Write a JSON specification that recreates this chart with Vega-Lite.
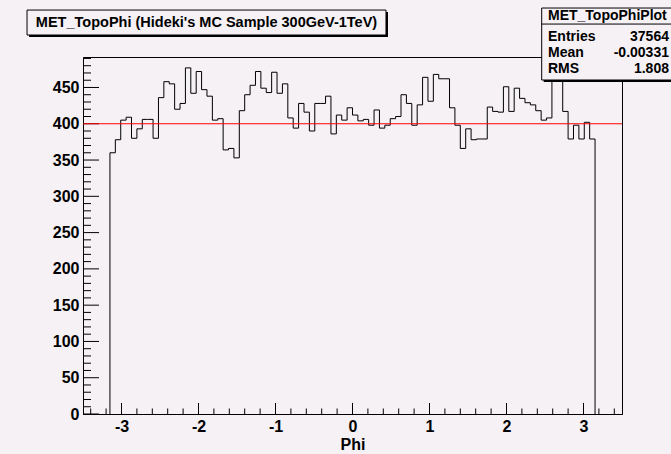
{
  "$schema": "https://vega.github.io/schema/vega-lite/v6.json",
  "width": 539,
  "height": 357,
  "autosize": {"type": "none"},
  "padding": {"left": 83, "top": 57, "right": 49, "bottom": 40},
  "background": "#f5f1f5",
  "config": {
    "view": {"stroke": "black", "strokeWidth": 1},
    "font": "Liberation Sans",
    "axis": {"grid": false, "tickColor": "black", "domainColor": "black", "labelColor": "black", "titleColor": "black", "tickCount": 100, "labelFlush": false, "labelOverlap": false}
  },
  "resolve": {"axis": {"x": "independent", "y": "independent"}},
  "datasets": {
    "hist": [
      {"i": 0, "phi": -3.15, "n": 0},
      {"i": 1, "phi": -3.15, "n": 360},
      {"i": 2, "phi": -3.08, "n": 378},
      {"i": 3, "phi": -3.01, "n": 405},
      {"i": 4, "phi": -2.94, "n": 409},
      {"i": 5, "phi": -2.87, "n": 380},
      {"i": 6, "phi": -2.80, "n": 393},
      {"i": 7, "phi": -2.73, "n": 406},
      {"i": 8, "phi": -2.66, "n": 406},
      {"i": 9, "phi": -2.59, "n": 380},
      {"i": 10, "phi": -2.52, "n": 436},
      {"i": 11, "phi": -2.45, "n": 458},
      {"i": 12, "phi": -2.38, "n": 455},
      {"i": 13, "phi": -2.31, "n": 420},
      {"i": 14, "phi": -2.24, "n": 428},
      {"i": 15, "phi": -2.17, "n": 477},
      {"i": 16, "phi": -2.10, "n": 442},
      {"i": 17, "phi": -2.03, "n": 472},
      {"i": 18, "phi": -1.96, "n": 447},
      {"i": 19, "phi": -1.89, "n": 438},
      {"i": 20, "phi": -1.82, "n": 405},
      {"i": 21, "phi": -1.75, "n": 407},
      {"i": 22, "phi": -1.68, "n": 364},
      {"i": 23, "phi": -1.61, "n": 366},
      {"i": 24, "phi": -1.54, "n": 353},
      {"i": 25, "phi": -1.47, "n": 418},
      {"i": 26, "phi": -1.40, "n": 440},
      {"i": 27, "phi": -1.33, "n": 453},
      {"i": 28, "phi": -1.26, "n": 472},
      {"i": 29, "phi": -1.19, "n": 449},
      {"i": 30, "phi": -1.12, "n": 443},
      {"i": 31, "phi": -1.05, "n": 471},
      {"i": 32, "phi": -0.98, "n": 442},
      {"i": 33, "phi": -0.91, "n": 455},
      {"i": 34, "phi": -0.84, "n": 408},
      {"i": 35, "phi": -0.77, "n": 394},
      {"i": 36, "phi": -0.70, "n": 428},
      {"i": 37, "phi": -0.63, "n": 416},
      {"i": 38, "phi": -0.56, "n": 390},
      {"i": 39, "phi": -0.49, "n": 428},
      {"i": 40, "phi": -0.42, "n": 428},
      {"i": 41, "phi": -0.35, "n": 438},
      {"i": 42, "phi": -0.28, "n": 386},
      {"i": 43, "phi": -0.21, "n": 412},
      {"i": 44, "phi": -0.14, "n": 405},
      {"i": 45, "phi": -0.07, "n": 422},
      {"i": 46, "phi": 0.00, "n": 412},
      {"i": 47, "phi": 0.07, "n": 404},
      {"i": 48, "phi": 0.14, "n": 406},
      {"i": 49, "phi": 0.21, "n": 398},
      {"i": 50, "phi": 0.28, "n": 419},
      {"i": 51, "phi": 0.35, "n": 394},
      {"i": 52, "phi": 0.42, "n": 398},
      {"i": 53, "phi": 0.49, "n": 407},
      {"i": 54, "phi": 0.56, "n": 410},
      {"i": 55, "phi": 0.63, "n": 440},
      {"i": 56, "phi": 0.70, "n": 428},
      {"i": 57, "phi": 0.77, "n": 398},
      {"i": 58, "phi": 0.84, "n": 426},
      {"i": 59, "phi": 0.91, "n": 464},
      {"i": 60, "phi": 0.98, "n": 431},
      {"i": 61, "phi": 1.05, "n": 468},
      {"i": 62, "phi": 1.12, "n": 462},
      {"i": 63, "phi": 1.19, "n": 462},
      {"i": 64, "phi": 1.26, "n": 422},
      {"i": 65, "phi": 1.33, "n": 398},
      {"i": 66, "phi": 1.40, "n": 366},
      {"i": 67, "phi": 1.47, "n": 393},
      {"i": 68, "phi": 1.54, "n": 378},
      {"i": 69, "phi": 1.61, "n": 379},
      {"i": 70, "phi": 1.68, "n": 379},
      {"i": 71, "phi": 1.75, "n": 423},
      {"i": 72, "phi": 1.82, "n": 417},
      {"i": 73, "phi": 1.89, "n": 416},
      {"i": 74, "phi": 1.96, "n": 451},
      {"i": 75, "phi": 2.03, "n": 417},
      {"i": 76, "phi": 2.10, "n": 449},
      {"i": 77, "phi": 2.17, "n": 435},
      {"i": 78, "phi": 2.24, "n": 429},
      {"i": 79, "phi": 2.31, "n": 426},
      {"i": 80, "phi": 2.38, "n": 418},
      {"i": 81, "phi": 2.45, "n": 405},
      {"i": 82, "phi": 2.52, "n": 408},
      {"i": 83, "phi": 2.59, "n": 470},
      {"i": 84, "phi": 2.66, "n": 465},
      {"i": 85, "phi": 2.73, "n": 417},
      {"i": 86, "phi": 2.80, "n": 379},
      {"i": 87, "phi": 2.87, "n": 398},
      {"i": 88, "phi": 2.94, "n": 379},
      {"i": 89, "phi": 3.01, "n": 402},
      {"i": 90, "phi": 3.08, "n": 379},
      {"i": 91, "phi": 3.15, "n": 0}
    ],
    "xmajor": [{"v": -3}, {"v": -2}, {"v": -1}, {"v": 0}, {"v": 1}, {"v": 2}, {"v": 3}],
    "xminor": [{"v": -3.4}, {"v": -3.2}, {"v": -2.8}, {"v": -2.6}, {"v": -2.4}, {"v": -2.2}, {"v": -1.8}, {"v": -1.6}, {"v": -1.4}, {"v": -1.2}, {"v": -0.8}, {"v": -0.6}, {"v": -0.4}, {"v": -0.2}, {"v": 0.2}, {"v": 0.4}, {"v": 0.6}, {"v": 0.8}, {"v": 1.2}, {"v": 1.4}, {"v": 1.6}, {"v": 1.8}, {"v": 2.2}, {"v": 2.4}, {"v": 2.6}, {"v": 2.8}, {"v": 3.2}, {"v": 3.4}],
    "ymajor": [{"v": 0}, {"v": 50}, {"v": 100}, {"v": 150}, {"v": 200}, {"v": 250}, {"v": 300}, {"v": 350}, {"v": 400}, {"v": 450}],
    "yminor": [{"v": 10}, {"v": 20}, {"v": 30}, {"v": 40}, {"v": 60}, {"v": 70}, {"v": 80}, {"v": 90}, {"v": 110}, {"v": 120}, {"v": 130}, {"v": 140}, {"v": 160}, {"v": 170}, {"v": 180}, {"v": 190}, {"v": 210}, {"v": 220}, {"v": 230}, {"v": 240}, {"v": 260}, {"v": 270}, {"v": 280}, {"v": 290}, {"v": 310}, {"v": 320}, {"v": 330}, {"v": 340}, {"v": 360}, {"v": 370}, {"v": 380}, {"v": 390}, {"v": 410}, {"v": 420}, {"v": 430}, {"v": 440}, {"v": 460}, {"v": 470}, {"v": 480}, {"v": 490}],
    "one": [{}]
  },
  "layer": [
    {
      "data": {"name": "hist"},
      "mark": {"type": "line", "interpolate": "step-after", "color": "black", "strokeWidth": 1},
      "encoding": {
        "x": {
          "field": "phi",
          "type": "quantitative",
          "scale": {"domain": [-3.5, 3.5], "nice": false, "zero": false},
          "axis": {
            "orient": "bottom",
            "values": [-3, -2, -1, 0, 1, 2, 3],
            "labelExpr": "'' + round(datum.value)",
            "ticks": false,
            "labelPadding": 4,
            "labelFont": "Liberation Sans",
            "labelFontWeight": "bold",
            "labelFontSize": 16,
            "title": "Phi",
            "titleFont": "Liberation Sans",
            "titleFontWeight": "bold",
            "titleFontSize": 16,
            "titlePadding": 2
          }
        },
        "y": {
          "field": "n",
          "type": "quantitative",
          "scale": {"domain": [0, 492], "nice": false, "zero": true},
          "axis": {
            "orient": "left",
            "values": [0, 50, 100, 150, 200, 250, 300, 350, 400, 450],
            "labelExpr": "'' + datum.value",
            "ticks": false,
            "labelPadding": 4,
            "labelFont": "Liberation Sans",
            "labelFontWeight": "bold",
            "labelFontSize": 16,
            "title": null
          }
        },
        "order": {"field": "i", "type": "quantitative"}
      }
    },
    {
      "data": {"name": "xmajor"},
      "mark": {"type": "rule", "color": "black", "strokeWidth": 1},
      "encoding": {
        "x": {"field": "v", "type": "quantitative", "axis": null},
        "y": {"datum": 0, "axis": null},
        "y2": {"datum": 15.16}
      }
    },
    {
      "data": {"name": "xminor"},
      "mark": {"type": "rule", "color": "black", "strokeWidth": 1},
      "encoding": {
        "x": {"field": "v", "type": "quantitative", "axis": null},
        "y": {"datum": 0, "axis": null},
        "y2": {"datum": 7.58}
      }
    },
    {
      "data": {"name": "ymajor"},
      "mark": {"type": "rule", "color": "black", "strokeWidth": 1},
      "encoding": {
        "y": {"field": "v", "type": "quantitative", "axis": null},
        "x": {"datum": -3.5, "axis": null},
        "x2": {"datum": -3.2922}
      }
    },
    {
      "data": {"name": "yminor"},
      "mark": {"type": "rule", "color": "black", "strokeWidth": 1},
      "encoding": {
        "y": {"field": "v", "type": "quantitative", "axis": null},
        "x": {"datum": -3.5, "axis": null},
        "x2": {"datum": -3.3961}
      }
    },
    {
      "data": {"name": "one"},
      "mark": {"type": "rule", "color": "#ff0000", "strokeWidth": 1},
      "encoding": {
        "y": {"datum": 400, "axis": null}
      }
    },
    {
      "data": {"name": "one"},
      "mark": {"type": "rect", "fill": "black"},
      "encoding": {
        "x": {"datum": -4.2, "axis": null},
        "x2": {"datum": 0.461},
        "y": {"datum": 554.0, "axis": null},
        "y2": {"datum": 519.5}
      }
    },
    {
      "data": {"name": "one"},
      "mark": {"type": "rect", "fill": "#f5f1f5", "stroke": "black", "strokeWidth": 1},
      "encoding": {
        "x": {"datum": -4.227, "axis": null},
        "x2": {"datum": 0.435},
        "y": {"datum": 556.7, "axis": null},
        "y2": {"datum": 522.3}
      }
    },
    {
      "data": {"name": "one"},
      "mark": {"type": "text", "text": "MET_TopoPhi (Hideki's MC Sample 300GeV-1TeV)", "font": "Liberation Sans", "fontWeight": "bold", "fontSize": 14.5, "align": "center", "baseline": "middle", "color": "black"},
      "encoding": {
        "x": {"datum": -1.896, "axis": null},
        "y": {"datum": 539.5, "axis": null}
      }
    },
    {
      "data": {"name": "one"},
      "mark": {"type": "rect", "fill": "black"},
      "encoding": {
        "x": {"datum": 2.483, "axis": null},
        "x2": {"datum": 4.8},
        "y": {"datum": 556.7, "axis": null},
        "y2": {"datum": 457.5}
      }
    },
    {
      "data": {"name": "one"},
      "mark": {"type": "rect", "fill": "#f5f1f5", "stroke": "black", "strokeWidth": 1},
      "encoding": {
        "x": {"datum": 2.457, "axis": null},
        "x2": {"datum": 4.7},
        "y": {"datum": 559.5, "axis": null},
        "y2": {"datum": 460.3}
      }
    },
    {
      "data": {"name": "one"},
      "mark": {"type": "rule", "color": "black", "strokeWidth": 1},
      "encoding": {
        "x": {"datum": 2.457, "axis": null},
        "x2": {"datum": 4.7},
        "y": {"datum": 537.4, "axis": null}
      }
    },
    {
      "data": {"name": "one"},
      "mark": {"type": "text", "text": "MET_TopoPhiPlot", "font": "Liberation Sans", "fontWeight": "bold", "fontSize": 14, "align": "left", "baseline": "middle", "color": "black"},
      "encoding": {
        "x": {"datum": 2.539, "axis": null},
        "y": {"datum": 548.4, "axis": null}
      }
    },
    {
      "data": {"name": "one"},
      "mark": {"type": "text", "text": ["Entries", "Mean", "RMS"], "lineHeight": 16, "font": "Liberation Sans", "fontWeight": "bold", "fontSize": 14, "align": "left", "baseline": "middle", "color": "black"},
      "encoding": {
        "x": {"datum": 2.539, "axis": null},
        "y": {"datum": 519.9, "axis": null}
      }
    },
    {
      "data": {"name": "one"},
      "mark": {"type": "text", "text": ["37564", "-0.00331", "1.808"], "lineHeight": 16, "font": "Liberation Sans", "fontWeight": "bold", "fontSize": 14, "align": "right", "baseline": "middle", "color": "black"},
      "encoding": {
        "x": {"datum": 4.11, "axis": null},
        "y": {"datum": 519.9, "axis": null}
      }
    }
  ]
}
